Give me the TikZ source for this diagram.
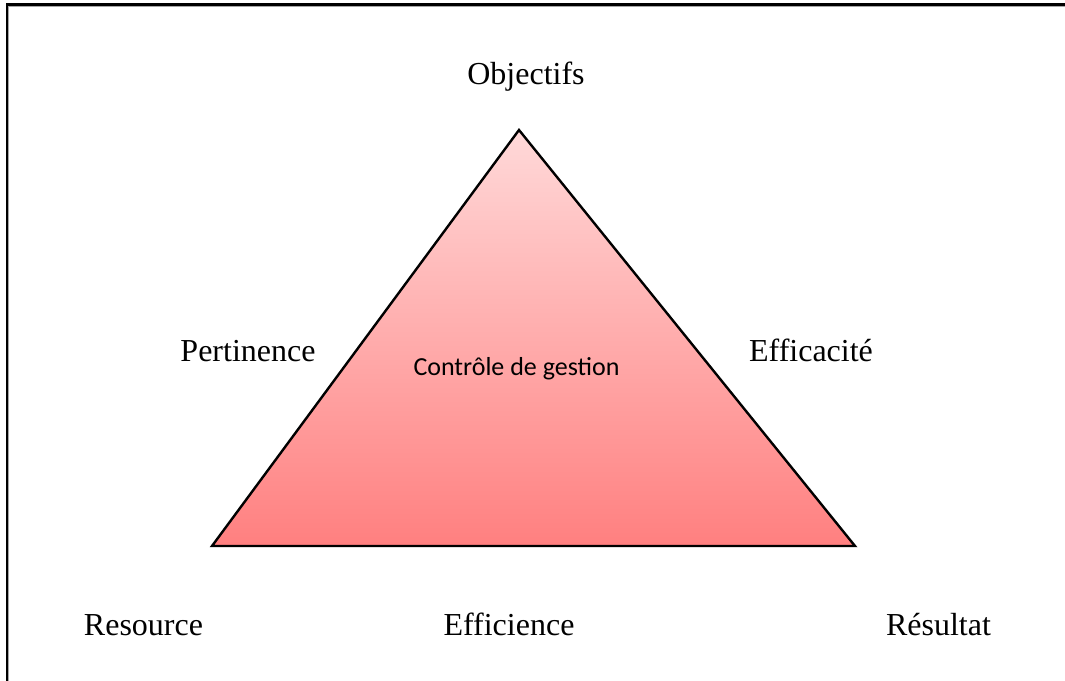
\documentclass[tikz,border=0pt]{standalone}
\usepackage{fontspec}
\setmainfont{Liberation Serif}
\newfontfamily\calibrifont{Carlito}
\begin{document}
\begin{tikzpicture}[x=0.75pt,y=-0.75pt,
  lbl/.style={anchor=base,inner sep=0pt,font=\fontsize{24}{28}\selectfont},
  inlbl/.style={anchor=base,inner sep=0pt,font=\calibrifont\fontsize{19.5}{23}\selectfont}]
  % page area, the frame runs off its right and bottom edges
  \clip (0,0) rectangle (1065,681);
  \fill[white] (0,0) rectangle (1065,681);
  \draw[gray!70,line width=0.75pt] (8.7,6.2) rectangle (1080,700);
  \draw[black,line width=1.7pt] (7,4.5) rectangle (1080,700);

  % triangle
  \coordinate (apex) at (519,130);
  \coordinate (bl) at (212,546);
  \coordinate (br) at (855,546);
  \shade[top color=red!15,bottom color=red!50,draw=black,line width=1.8pt,line join=miter]
    (apex) -- (br) -- (bl) -- cycle;

  % labels
  \node[lbl] (obj) at (526,85) {Objectifs};
  \node[lbl] (per) at (248,361) {Pertinence};
  \node[lbl] (eff) at (811,361) {Efficacité};
  \node[lbl] (res) at (143.5,635) {Resource};
  \node[lbl] (efi) at (509,635) {Efficience};
  \node[lbl] (rsl) at (938.5,635) {Résultat};
  \node[inlbl] (cdg) at (516.5,375) {Contrôle de gestion};
\end{tikzpicture}
\end{document}
